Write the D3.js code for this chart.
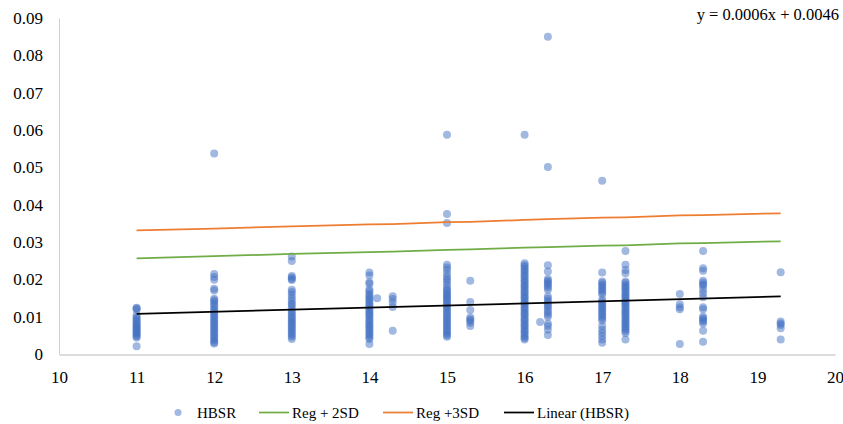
<!DOCTYPE html>
<html>
<head>
<meta charset="utf-8">
<script src="https://cdn.jsdelivr.net/npm/d3@7"></script>
<style>
  html, body { margin: 0; padding: 0; background: #fff; }
  svg { display: block; }
</style>
</head>
<body>
<svg id="chart" width="843" height="424"></svg>
<script>
// Age positions (x) at which HBSR observations were recorded
const ages = [11, 12, 13, 14, 14.1, 14.3, 15, 15.3, 16, 16.2, 16.3, 17, 17.3, 18, 18.3, 19.3];

// HBSR observations for each age above
const hbsrByAge = [
  [0.0124, 0.0122, 0.0119, 0.0104, 0.0098, 0.0094, 0.0089, 0.0086, 0.0081, 0.0078, 0.0074, 0.0070, 0.0067, 0.0064, 0.0060, 0.0057, 0.0054, 0.0050, 0.0047, 0.0044, 0.0021],
  [0.0537, 0.0214, 0.0206, 0.0199, 0.0175, 0.0170, 0.0148, 0.0144, 0.0139, 0.0133, 0.0128, 0.0121, 0.0116, 0.0111, 0.0106, 0.0101, 0.0096, 0.0091, 0.0086, 0.0081, 0.0076, 0.0070, 0.0066, 0.0061, 0.0056, 0.0050, 0.0046, 0.0041, 0.0036, 0.0031, 0.0028],
  [0.0261, 0.0249, 0.0209, 0.0205, 0.0201, 0.0198, 0.0172, 0.0166, 0.0159, 0.0151, 0.0143, 0.0136, 0.0131, 0.0124, 0.0116, 0.0111, 0.0105, 0.0100, 0.0095, 0.0090, 0.0085, 0.0081, 0.0076, 0.0071, 0.0066, 0.0061, 0.0056, 0.0051, 0.0046, 0.0040],
  [0.0218, 0.0210, 0.0192, 0.0188, 0.0173, 0.0168, 0.0161, 0.0156, 0.0151, 0.0146, 0.0141, 0.0135, 0.0130, 0.0126, 0.0120, 0.0115, 0.0110, 0.0106, 0.0101, 0.0095, 0.0090, 0.0086, 0.0080, 0.0075, 0.0071, 0.0065, 0.0061, 0.0055, 0.0050, 0.0045, 0.0040, 0.0027],
  [0.0149],
  [0.0155, 0.0147, 0.0138, 0.0126, 0.0062],
  [0.0587, 0.0375, 0.0351, 0.0239, 0.0232, 0.0225, 0.0215, 0.0207, 0.0200, 0.0194, 0.0186, 0.0178, 0.0172, 0.0168, 0.0163, 0.0158, 0.0154, 0.0150, 0.0145, 0.0140, 0.0135, 0.0130, 0.0125, 0.0121, 0.0115, 0.0110, 0.0105, 0.0100, 0.0095, 0.0090, 0.0085, 0.0080, 0.0075, 0.0070, 0.0065, 0.0060, 0.0055, 0.0050, 0.0046],
  [0.0196, 0.0139, 0.0118, 0.0098, 0.0093, 0.0089, 0.0084, 0.0075],
  [0.0587, 0.0243, 0.0238, 0.0234, 0.0228, 0.0223, 0.0218, 0.0212, 0.0208, 0.0202, 0.0197, 0.0193, 0.0187, 0.0182, 0.0178, 0.0172, 0.0167, 0.0163, 0.0157, 0.0152, 0.0148, 0.0142, 0.0137, 0.0133, 0.0127, 0.0122, 0.0118, 0.0112, 0.0107, 0.0103, 0.0097, 0.0092, 0.0088, 0.0082, 0.0077, 0.0073, 0.0067, 0.0062, 0.0058, 0.0052, 0.0047, 0.0043, 0.0039],
  [0.0086],
  [0.0850, 0.0501, 0.0238, 0.0221, 0.0201, 0.0196, 0.0192, 0.0188, 0.0183, 0.0178, 0.0172, 0.0154, 0.0148, 0.0142, 0.0136, 0.0130, 0.0125, 0.0118, 0.0112, 0.0106, 0.0100, 0.0082, 0.0075, 0.0065, 0.0051],
  [0.0464, 0.0218, 0.0194, 0.0190, 0.0185, 0.0180, 0.0175, 0.0170, 0.0165, 0.0160, 0.0145, 0.0140, 0.0135, 0.0130, 0.0125, 0.0120, 0.0115, 0.0110, 0.0105, 0.0100, 0.0095, 0.0090, 0.0075, 0.0065, 0.0057, 0.0048, 0.0039, 0.0030],
  [0.0276, 0.0239, 0.0225, 0.0216, 0.0194, 0.0190, 0.0185, 0.0180, 0.0176, 0.0171, 0.0166, 0.0161, 0.0157, 0.0152, 0.0147, 0.0142, 0.0137, 0.0133, 0.0128, 0.0123, 0.0118, 0.0113, 0.0109, 0.0104, 0.0099, 0.0094, 0.0089, 0.0085, 0.0080, 0.0075, 0.0070, 0.0066, 0.0061, 0.0056, 0.0039],
  [0.0161, 0.0133, 0.0125, 0.0120, 0.0027],
  [0.0276, 0.0230, 0.0223, 0.0196, 0.0191, 0.0186, 0.0182, 0.0172, 0.0163, 0.0152, 0.0125, 0.0120, 0.0100, 0.0096, 0.0091, 0.0087, 0.0082, 0.0062, 0.0033],
  [0.0219, 0.0087, 0.0082, 0.0078, 0.0069, 0.0039]
];

// Reference bands (regression + 2 SD, regression + 3 SD) at the measured ages
const bandAges = [11, 12, 13, 14, 14.3, 15, 15.3, 16, 16.3, 17, 17.3, 18, 18.3, 19.3];
const regPlus2SD = [0.0256, 0.0262, 0.0268, 0.0273, 0.0274, 0.0279, 0.0280, 0.0285, 0.0286, 0.0290, 0.0291, 0.0296, 0.0297, 0.0302];
const regPlus3SD = [0.0331, 0.0336, 0.0342, 0.0347, 0.0348, 0.0353, 0.0354, 0.0359, 0.0361, 0.0365, 0.0366, 0.0371, 0.0372, 0.0377];

// Linear trend of HBSR against age
const trendSlope = 0.00056;
const trendIntercept = 0.0046;

// Axis ticks
const xTicks = [10, 11, 12, 13, 14, 15, 16, 17, 18, 19, 20];
const yTicks = [0, 0.01, 0.02, 0.03, 0.04, 0.05, 0.06, 0.07, 0.08, 0.09];

// Legend entries
const legendLabels = ["HBSR", "Reg + 2SD", "Reg +3SD", "Linear (HBSR)"];

const serif = "'Liberation Serif', 'Times New Roman', serif";

const svg = d3.select("#chart");

const x = d3.scaleLinear().domain([10, 20]).range([59, 835]);
const y = d3.scaleLinear().domain([0, 0.09]).range([354, 18]);

const colors = {
  point: "#4472C4",
  reg2: "#70AD47",
  reg3: "#ED7D31",
  trend: "#000000",
  axis: "#d0d0d0"
};

// Axes (lines only, no tick marks)
const xAxis = d3.axisBottom(x).tickValues(xTicks).tickFormat(d3.format("d")).tickSize(0).tickPadding(16);
const yAxis = d3.axisLeft(y).tickValues(yTicks).tickFormat(d => d === 0 ? "0" : d3.format(".2f")(d)).tickSize(0).tickPadding(16);

function styleTicks(g) {
  g.attr("font-family", null).attr("font-size", null);
  g.selectAll(".tick text")
    .style("font-family", serif)
    .style("font-size", "17px")
    .attr("fill", "#000");
}

const gx = svg.append("g").attr("transform", `translate(0,${y(0) + 0.5})`).call(xAxis).call(styleTicks);
gx.select(".domain").attr("stroke", colors.axis).attr("stroke-width", 1.5);

const gy = svg.append("g").attr("transform", `translate(${x(10)},0)`).call(yAxis).call(styleTicks);
gy.select(".domain").attr("stroke", colors.axis).attr("stroke-width", 1);

// Scatter points
const points = [];
ages.forEach((a, i) => hbsrByAge[i].forEach(v => points.push({ age: a, value: v })));

svg.append("g").selectAll("circle")
  .data(points)
  .join("circle")
  .attr("cx", d => x(d.age))
  .attr("cy", d => y(d.value))
  .attr("r", 4)
  .attr("fill", colors.point)
  .attr("fill-opacity", 0.5);

// Reference band lines
const bandLine = d3.line().x(d => x(d[0])).y(d => y(d[1]));

svg.append("path")
  .attr("d", bandLine(d3.zip(bandAges, regPlus2SD)))
  .attr("fill", "none").attr("stroke", colors.reg2).attr("stroke-width", 1.75);

svg.append("path")
  .attr("d", bandLine(d3.zip(bandAges, regPlus3SD)))
  .attr("fill", "none").attr("stroke", colors.reg3).attr("stroke-width", 1.75);

// Linear trend line over the observed age range
const [ageMin, ageMax] = d3.extent(ages);
svg.append("path")
  .attr("d", bandLine([ageMin, ageMax].map(a => [a, trendSlope * a + trendIntercept])))
  .attr("fill", "none").attr("stroke", colors.trend).attr("stroke-width", 1.75);

// Trend equation
const fmt4 = d3.format(".4f");
svg.append("text")
  .attr("x", 839).attr("y", 20)
  .attr("text-anchor", "end")
  .attr("fill", "#000")
  .style("font-family", serif)
  .style("font-size", "16.5px")
  .text(`y = ${fmt4(trendSlope)}x + ${fmt4(trendIntercept)}`);

// Legend
const legend = svg.append("g");
const legendY = 413;
const legendItems = [
  { label: legendLabels[0], kind: "dot", color: colors.point, x0: 178, tx: 197 },
  { label: legendLabels[1], kind: "line", color: colors.reg2, x0: 259, tx: 292 },
  { label: legendLabels[2], kind: "line", color: colors.reg3, x0: 383, tx: 416 },
  { label: legendLabels[3], kind: "line", color: colors.trend, x0: 504, tx: 537 }
];
legendItems.forEach(it => {
  if (it.kind === "dot") {
    legend.append("circle").attr("cx", it.x0).attr("cy", legendY - 0.5).attr("r", 3.5)
      .attr("fill", it.color).attr("fill-opacity", 0.5);
  } else {
    legend.append("line").attr("x1", it.x0).attr("x2", it.x0 + 30)
      .attr("y1", legendY - 0.5).attr("y2", legendY - 0.5)
      .attr("stroke", it.color).attr("stroke-width", 1.75);
  }
  legend.append("text").attr("x", it.tx).attr("y", legendY).attr("dy", "0.35em")
    .attr("fill", "#000")
    .style("font-family", serif)
    .style("font-size", "15px")
    .text(it.label);
});
</script>
</body>
</html>
